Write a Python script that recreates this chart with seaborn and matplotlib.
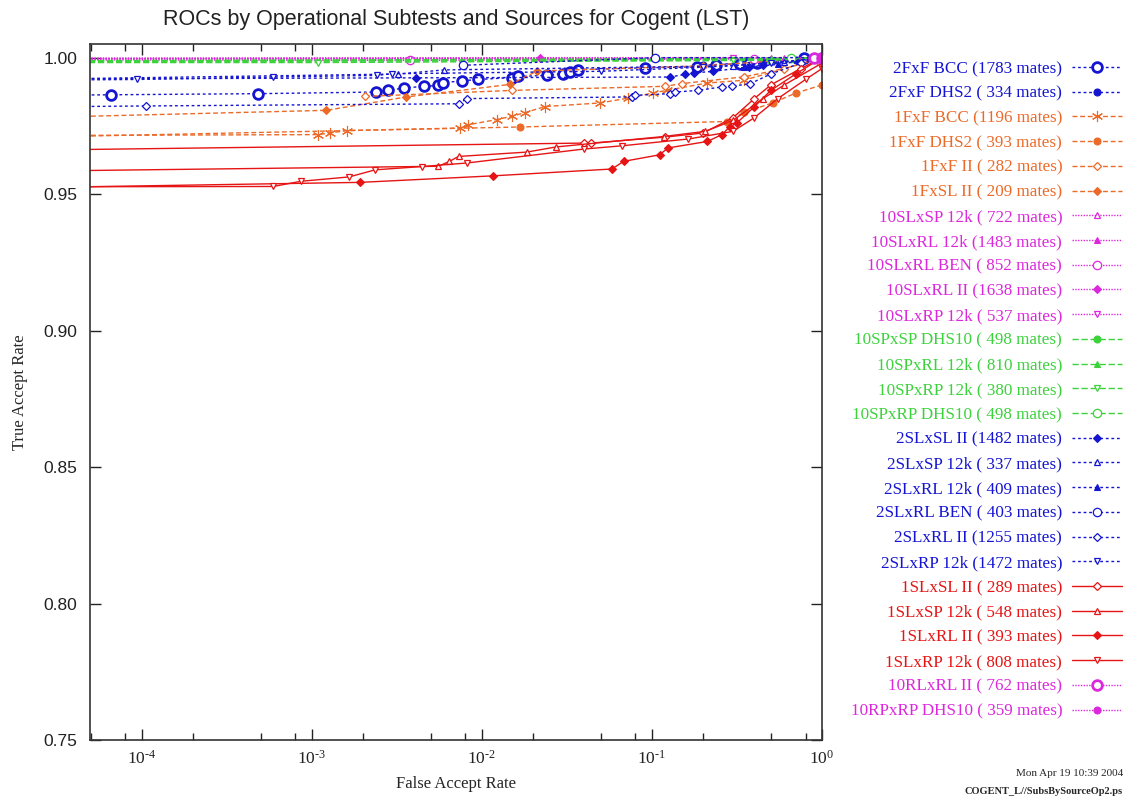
import pandas as pd
import seaborn as sns
import matplotlib.pyplot as plt
from matplotlib.ticker import LogLocator, FixedLocator, NullFormatter

# --- data (FAR, TAR) ---
far_2fxf_bcc = [3e-5, 6.6e-5, 4.8e-4, 2.4e-3, 2.8e-3, 3.5e-3, 4.6e-3, 5.5e-3, 5.9e-3, 7.6e-3, 9.5e-3,
                1.5e-2, 1.64e-2, 2.4e-2, 3.0e-2, 3.3e-2, 3.7e-2, 9.1e-2, 0.184, 0.238, 0.33, 0.37, 0.415, 0.78, 1.0]
tar_2fxf_bcc = [0.9862, 0.9864, 0.9868, 0.9874, 0.9880, 0.9889, 0.9895, 0.9898, 0.9908, 0.9915, 0.9920,
                0.9927, 0.9931, 0.9935, 0.9941, 0.9948, 0.9956, 0.9963, 0.9966, 0.9974, 0.9978, 0.9982, 0.9982, 0.9998, 1.0]
far_2fxf_dhs2 = [0.2, 0.45, 0.7, 1.0]
tar_2fxf_dhs2 = [0.9972, 0.9985, 0.9992, 1.0]

far_1fxf_bcc = [3e-5, 1.09e-3, 1.28e-3, 1.61e-3, 7.45e-3, 8.3e-3, 1.22e-2, 1.5e-2, 1.8e-2, 2.36e-2,
                4.96e-2, 7.28e-2, 0.102, 0.122, 0.211, 0.346, 0.93]
tar_1fxf_bcc = [0.9715, 0.9718, 0.9724, 0.9733, 0.9742, 0.9754, 0.9773, 0.9785, 0.9799, 0.9821,
                0.9834, 0.9852, 0.9871, 0.9880, 0.9907, 0.9917, 0.9993]
far_1fxf_dhs2 = [3e-5, 1.68e-2, 0.276, 0.35, 0.517, 0.7, 1.0]
tar_1fxf_dhs2 = [0.9710, 0.9746, 0.9766, 0.9800, 0.9835, 0.9870, 0.9900]
far_1fxf_ii = [2.06e-3, 1.5e-2, 0.12, 0.15, 0.35, 0.6, 1.0]
tar_1fxf_ii = [0.9858, 0.9880, 0.9895, 0.9905, 0.9930, 0.9960, 1.0]
far_1fxsl_ii = [3e-5, 1.22e-3, 3.59e-3, 1.47e-2, 2.11e-2, 0.2, 1.0]
tar_1fxsl_ii = [0.9782, 0.9807, 0.9856, 0.9902, 0.9951, 0.9970, 1.0]

far_10slxsp_12k = [3e-5, 0.5, 1.0]
tar_10slxsp_12k = [0.9995, 0.9997, 1.0]
far_10slxrl_12k = [3e-5, 0.6, 1.0]
tar_10slxrl_12k = [0.9997, 0.9998, 1.0]
far_10slxrl_ben = [3e-5, 3.8e-3, 0.4, 1.0]
tar_10slxrl_ben = [0.9992, 0.9990, 0.9995, 1.0]
far_10slxrl_ii = [3e-5, 2.2e-2, 1.0]
tar_10slxrl_ii = [0.9998, 1.0, 1.0]
far_10slxrp_12k = [3e-5, 0.3, 1.0]
tar_10slxrp_12k = [0.9996, 0.9997, 1.0]

far_10spxsp_dhs10 = [3e-5, 0.5, 1.0]
tar_10spxsp_dhs10 = [0.9985, 0.9990, 1.0]
far_10spxrl_12k = [3e-5, 0.5, 1.0]
tar_10spxrl_12k = [0.9989, 0.9993, 1.0]
far_10spxrp_12k = [3e-5, 1.09e-3, 0.3, 1.0]
tar_10spxrp_12k = [0.9982, 0.9982, 0.9990, 1.0]
far_10spxrp_dhs10 = [3e-5, 0.66, 1.0]
tar_10spxrp_dhs10 = [0.9987, 0.9998, 1.0]

far_2slxsl_ii = [3e-5, 4.1e-3, 0.128, 0.157, 0.176, 0.23, 0.37, 0.45, 1.0]
tar_2slxsl_ii = [0.9922, 0.9926, 0.9929, 0.9939, 0.9944, 0.9950, 0.9966, 0.9972, 1.0]
far_2slxsp_12k = [3e-5, 3.2e-3, 6.0e-3, 0.3, 0.6, 1.0]
tar_2slxsp_12k = [0.9922, 0.9940, 0.9955, 0.9970, 0.9985, 1.0]
far_2slxrl_12k = [0.35, 0.55, 1.0]
tar_2slxrl_12k = [0.9965, 0.9975, 1.0]
far_2slxrl_ben = [7.7e-3, 0.104, 1.0]
tar_2slxrl_ben = [0.9972, 1.0, 1.0]
far_2slxrl_ii = [3e-5, 1.06e-4, 7.29e-3, 8.17e-3, 7.63e-2, 7.98e-2, 0.128, 0.137, 0.187, 0.258, 0.296, 0.379, 0.5, 0.75, 1.0]
tar_2slxrl_ii = [0.9820, 0.9823, 0.9831, 0.9850, 0.9856, 0.9862, 0.9868, 0.9874, 0.9880, 0.9893, 0.9895, 0.9905, 0.9940, 0.9980, 1.0]
far_2slxrp_12k = [3e-5, 9.35e-5, 5.94e-4, 2.41e-3, 2.96e-3, 0.05, 0.2, 0.5, 1.0]
tar_2slxrp_12k = [0.9918, 0.9920, 0.9929, 0.9935, 0.9941, 0.9950, 0.9965, 0.9980, 1.0]

far_1slxsl_ii = [3e-5, 4.0e-2, 4.4e-2, 0.12, 0.2, 0.3, 0.4, 0.5, 0.75, 1.0]
tar_1slxsl_ii = [0.9662, 0.9687, 0.9687, 0.9709, 0.9724, 0.9780, 0.9850, 0.9900, 0.9960, 1.0]
far_1slxsp_12k = [3e-5, 5.55e-3, 6.45e-3, 7.29e-3, 1.84e-2, 2.74e-2, 0.117, 0.206, 0.3, 0.45, 0.6, 1.0]
tar_1slxsp_12k = [0.9585, 0.9602, 0.9620, 0.9638, 0.9654, 0.9673, 0.9711, 0.9730, 0.9770, 0.9850, 0.9900, 0.9980]
far_1slxrl_ii = [3e-5, 1.92e-3, 1.17e-2, 5.82e-2, 6.81e-2, 0.111, 0.124, 0.212, 0.258, 0.286, 0.316, 0.4, 0.5, 0.7, 1.0]
tar_1slxrl_ii = [0.9525, 0.9543, 0.9567, 0.9592, 0.9620, 0.9644, 0.9669, 0.9693, 0.9718, 0.9746, 0.9761, 0.9820, 0.9880, 0.9940, 1.0]
far_1slxrp_12k = [3e-5, 5.94e-4, 8.62e-4, 1.66e-3, 2.36e-3, 4.44e-3, 8.16e-3, 3.96e-2, 6.66e-2, 0.164, 0.3, 0.4, 0.55, 0.8, 1.0]
tar_1slxrp_12k = [0.9527, 0.9528, 0.9547, 0.9563, 0.9589, 0.9601, 0.9614, 0.9665, 0.9677, 0.9702, 0.9730, 0.9780, 0.9850, 0.9920, 0.9960]

far_10rlxrl_ii = [0.9, 1.0]
tar_10rlxrl_ii = [0.9998, 1.0]
far_10rpxrp_dhs10 = [1.0]
tar_10rpxrp_dhs10 = [1.0]

names = ["2FxF BCC", "2FxF DHS2", "1FxF BCC", "1FxF DHS2", "1FxF II", "1FxSL II",
         "10SLxSP 12k", "10SLxRL 12k", "10SLxRL BEN", "10SLxRL II", "10SLxRP 12k",
         "10SPxSP DHS10", "10SPxRL 12k", "10SPxRP 12k", "10SPxRP DHS10",
         "2SLxSL II", "2SLxSP 12k", "2SLxRL 12k", "2SLxRL BEN", "2SLxRL II", "2SLxRP 12k",
         "1SLxSL II", "1SLxSP 12k", "1SLxRL II", "1SLxRP 12k", "10RLxRL II", "10RPxRP DHS10"]
mates = [1783, 334, 1196, 393, 282, 209, 722, 1483, 852, 1638, 537, 498, 810, 380, 498,
         1482, 337, 409, 403, 1255, 1472, 289, 548, 393, 808, 762, 359]
series = [
    (far_2fxf_bcc, tar_2fxf_bcc), (far_2fxf_dhs2, tar_2fxf_dhs2),
    (far_1fxf_bcc, tar_1fxf_bcc), (far_1fxf_dhs2, tar_1fxf_dhs2),
    (far_1fxf_ii, tar_1fxf_ii), (far_1fxsl_ii, tar_1fxsl_ii),
    (far_10slxsp_12k, tar_10slxsp_12k), (far_10slxrl_12k, tar_10slxrl_12k),
    (far_10slxrl_ben, tar_10slxrl_ben), (far_10slxrl_ii, tar_10slxrl_ii),
    (far_10slxrp_12k, tar_10slxrp_12k),
    (far_10spxsp_dhs10, tar_10spxsp_dhs10), (far_10spxrl_12k, tar_10spxrl_12k),
    (far_10spxrp_12k, tar_10spxrp_12k), (far_10spxrp_dhs10, tar_10spxrp_dhs10),
    (far_2slxsl_ii, tar_2slxsl_ii), (far_2slxsp_12k, tar_2slxsp_12k),
    (far_2slxrl_12k, tar_2slxrl_12k), (far_2slxrl_ben, tar_2slxrl_ben),
    (far_2slxrl_ii, tar_2slxrl_ii), (far_2slxrp_12k, tar_2slxrp_12k),
    (far_1slxsl_ii, tar_1slxsl_ii), (far_1slxsp_12k, tar_1slxsp_12k),
    (far_1slxrl_ii, tar_1slxrl_ii), (far_1slxrp_12k, tar_1slxrp_12k),
    (far_10rlxrl_ii, tar_10rlxrl_ii), (far_10rpxrp_dhs10, tar_10rpxrp_dhs10),
]

# --- styles ---
BLUE, ORANGE, MAGENTA, GREEN, RED = "#1414d2", "#ec6a28", "#dc28dc", "#3cd23c", "#e61414"
ls_blue, ls_orange, ls_mag, ls_green = (0, (2, 2)), (0, (3.5, 2)), (0, (1, 1)), (0, (4.5, 2))
# (colour, linestyle, marker, filled, size)
styles = [
    (BLUE, ls_blue, "o", "bold", 7), (BLUE, ls_blue, "o", True, 5),
    (ORANGE, ls_orange, (6, 2, 0), True, 8), (ORANGE, ls_orange, "o", True, 5),
    (ORANGE, ls_orange, "D", False, 4.5), (ORANGE, ls_orange, "D", True, 4),
    (MAGENTA, ls_mag, "^", False, 5), (MAGENTA, ls_mag, "^", True, 5),
    (MAGENTA, ls_mag, "o", False, 6), (MAGENTA, ls_mag, "D", True, 4),
    (MAGENTA, ls_mag, "v", False, 5),
    (GREEN, ls_green, "o", True, 5), (GREEN, ls_green, "^", True, 5),
    (GREEN, ls_green, "v", False, 5), (GREEN, ls_green, "o", False, 6),
    (BLUE, ls_blue, "D", True, 4), (BLUE, ls_blue, "^", False, 5),
    (BLUE, ls_blue, "^", True, 5), (BLUE, ls_blue, "o", False, 6),
    (BLUE, ls_blue, "D", False, 4.5), (BLUE, ls_blue, "v", False, 5),
    (RED, "-", "D", False, 4.5), (RED, "-", "^", False, 5),
    (RED, "-", "D", True, 4), (RED, "-", "v", False, 5),
    (MAGENTA, ls_mag, "o", "bold", 7), (MAGENTA, ls_mag, "o", True, 5),
]

sns.set_style("ticks")
plt.rcParams['font.family'] = ['Liberation Serif', 'DejaVu Serif']
plt.rcParams['mathtext.fontset'] = 'custom'
plt.rcParams['mathtext.rm'] = 'Liberation Serif'
plt.rcParams['mathtext.it'] = 'Liberation Serif:italic'

fig = plt.figure(figsize=(11.26, 7.99), dpi=100)
ax = fig.add_axes([90 / 1126, 59 / 799, 732 / 1126, 696 / 799])
ax.set_xscale("log")

for name, m, (fx, ty), (col, ls, mk, filled, ms) in zip(names, mates, series, styles):
    df = pd.DataFrame({"far": fx, "tar": ty})
    if filled == "bold":
        mfc, mew = "white", 2.0
    elif filled:
        mfc, mew = col, 0.8
    else:
        mfc, mew = "white", 0.9
    sns.lineplot(data=df, x="far", y="tar", ax=ax, sort=False, estimator=None,
                 color=col, linestyle=ls, linewidth=1.0, marker=mk, markersize=ms,
                 markerfacecolor=mfc, markeredgecolor=col, markeredgewidth=mew,
                 label=f"{name} ({m:>4} mates)")

ax.set_xlim(10 ** -4.304, 1.0)
ax.set_ylim(0.75, 1.005)
ax.xaxis.set_major_locator(FixedLocator([1e-4, 1e-3, 1e-2, 1e-1, 1.0]))
ax.set_xticklabels([r"$10^{\text{-}4}$", r"$10^{\text{-}3}$", r"$10^{\text{-}2}$",
                    r"$10^{\text{-}1}$", r"$10^{0}$"])
ax.xaxis.set_minor_locator(LogLocator(base=10, subs=[2, 5, 8], numticks=20))
ax.xaxis.set_minor_formatter(NullFormatter())
ax.set_yticks([0.75, 0.80, 0.85, 0.90, 0.95, 1.00])
ax.set_yticklabels(["0.75", "0.80", "0.85", "0.90", "0.95", "1.00"], family="Liberation Sans", fontsize=12.5)
ax.tick_params(axis="both", which="both", direction="in", top=True, right=True, colors="#222222")
ax.tick_params(axis="both", which="major", length=8, width=1)
ax.tick_params(axis="both", which="minor", length=5, width=1)
ax.tick_params(axis="x", which="major", labelsize=12.5, pad=7)
ax.tick_params(axis="y", which="major", pad=9)
for sp in ax.spines.values():
    sp.set_color("#333333")
    sp.set_linewidth(1.2)

ax.set_xlabel("False Accept Rate", fontsize=12, labelpad=6)
ax.set_ylabel("True Accept Rate", fontsize=12, labelpad=11)
fig.text(456 / 1126, 1 - 20 / 799, "ROCs by Operational Subtests and Sources for Cogent (LST)",
         family="Liberation Sans", fontsize=15.5, ha="center", va="center", color="#222222")

handles, labels = ax.get_legend_handles_labels()
leg = fig.legend(handles, labels, loc="upper right", bbox_to_anchor=(1122 / 1126, 1 - 61 / 799),
                 markerfirst=False, frameon=False, fontsize=12.3, handlelength=2.9,
                 handletextpad=0.6, labelspacing=0.51, borderpad=0, borderaxespad=0, numpoints=1)
for txt, (col, *_rest) in zip(leg.get_texts(), styles):
    txt.set_color(col)
ax.get_legend().remove()

fig.text(1123 / 1126, 1 - 773 / 799, "Mon Apr 19 10:39 2004", fontsize=8, ha="right", va="center")
fig.text(1123 / 1126, 1 - 791 / 799, "COGENT_L//SubsBySourceOp2.ps", fontsize=7.5,
         fontweight="bold", ha="right", va="center")

fig.savefig("out.png", dpi=100)
